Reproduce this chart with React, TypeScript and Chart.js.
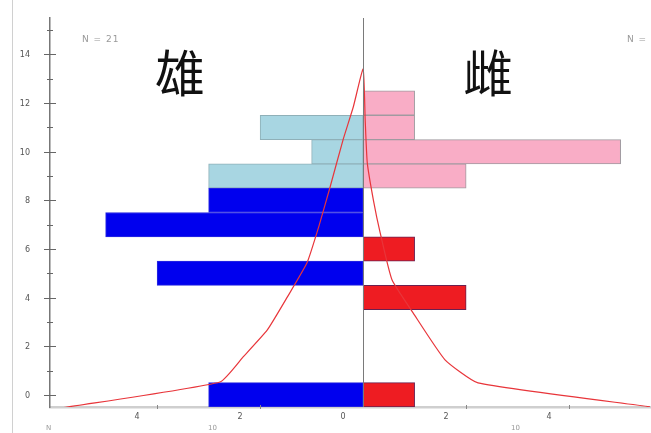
import React, { useEffect, useRef } from "react";
import { Chart, registerables } from "chart.js";

Chart.register(...registerables);

// Rows (y) and counts (x) for each group
const maleRows = [0, 5, 7, 8];
const maleCounts = [3, 4, 5, 3];
const femaleRows = [0, 4, 6];
const femaleCounts = [1, 2, 1];
const maleLightRows = [9, 10, 11];
const maleLightCounts = [3, 1, 2];
const femaleLightRows = [9, 10, 11, 12];
const femaleLightCounts = [2, 5, 1, 1];

// Density-like outline (x = signed count, y = row)
const curveX = [-5.83, -2.78, -2.33, -1.86, -1.47, -1.09, -0.85, -0.64, -0.39, -0.19, 0, 0.04, 0.08, 0.2, 0.33, 0.56, 0.97, 1.59, 2.23, 5.57];
const curveY = [-0.53, 0.53, 1.56, 2.67, 4.03, 5.43, 7.0, 8.56, 10.49, 11.85, 13.4, 11.3, 9.55, 8.0, 6.67, 4.73, 3.37, 1.44, 0.49, -0.49];

const xTickValues = [-4, -2, 0, 2, 4];
const yTickValues = [0, 1, 2, 3, 4, 5, 6, 7, 8, 9, 10, 11, 12, 13, 14, 15];
const yMin = -0.5;
const yMax = 15.5;
const xMin = -6.08;
const xMax = 5.57;

const decorPlugin = {
  id: "decor",
  afterDatasetsDraw(chart: any) {
    const { ctx, chartArea, scales } = chart;
    const x = scales.x;
    ctx.save();
    const cx = Math.round(x.getPixelForValue(0)) + 0.5;
    ctx.strokeStyle = "#7a7a7a";
    ctx.lineWidth = 1;
    ctx.beginPath();
    ctx.moveTo(cx, chartArea.top);
    ctx.lineTo(cx, chartArea.bottom);
    ctx.stroke();
    ctx.restore();
  },
  afterDraw(chart: any) {
    const { ctx, chartArea, scales } = chart;
    const x = scales.x;
    const y = scales.y;
    ctx.save();
    ctx.strokeStyle = "#666";
    ctx.lineWidth = 1;
    const ax = chartArea.left;
    ctx.font = "8px 'DejaVu Sans'";
    ctx.fillStyle = "#555";
    ctx.textAlign = "right";
    ctx.textBaseline = "middle";
    y.ticks.forEach((t: any) => {
      const v = t.value;
      const py = Math.round(y.getPixelForValue(v)) + 0.5;
      const major = v % 2 === 0;
      const half = major ? 6 : 3;
      ctx.beginPath();
      ctx.moveTo(ax - half, py);
      ctx.lineTo(ax + half, py);
      ctx.stroke();
      if (major) ctx.fillText(String(v), ax - 20, py);
    });
    ctx.strokeStyle = "#888";
    x.ticks.forEach((t: any) => {
      if (t.value === 0) return;
      const px = Math.round(x.getPixelForValue(t.value)) + 0.5;
      ctx.beginPath();
      ctx.moveTo(px, chartArea.bottom - 2);
      ctx.lineTo(px, chartArea.bottom + 2);
      ctx.stroke();
    });
    ctx.strokeStyle = "#d0d0d0";
    ctx.beginPath();
    ctx.moveTo(12.5, 0);
    ctx.lineTo(12.5, chart.height);
    ctx.stroke();
    ctx.restore();
  },
};

function pts(rows: number[], counts: number[], sign: number) {
  return rows.map((r, i) => ({ x: sign * counts[i], y: r }));
}

export default function App() {
  const ref = useRef<HTMLCanvasElement | null>(null);
  useEffect(() => {
    document.body.style.margin = "0";
    const canvas = ref.current;
    if (!canvas) return;
    const barCommon = {
      type: "bar" as const,
      indexAxis: "y" as const,
      grouped: false,
      barPercentage: 1,
      categoryPercentage: 1,
      borderSkipped: false,
      borderWidth: 1,
    };
    const chart = new Chart(canvas, {
      type: "bar",
      data: {
        datasets: [
          {
            ...barCommon,
            label: "male",
            data: pts(maleRows, maleCounts, -1),
            backgroundColor: "#0000ee",
            borderColor: "#2a2ae0",
            order: 3,
          },
          {
            ...barCommon,
            label: "female",
            data: pts(femaleRows, femaleCounts, 1),
            backgroundColor: "#ee1c22",
            borderColor: "#6a2050",
            order: 3,
          },
          {
            ...barCommon,
            label: "male2",
            data: pts(maleLightRows, maleLightCounts, -1),
            backgroundColor: "#a8d6e2",
            borderColor: "#8fb0b8",
            order: 3,
          },
          {
            ...barCommon,
            label: "female2",
            data: pts(femaleLightRows, femaleLightCounts, 1),
            backgroundColor: "#f9adc6",
            borderColor: "#a09aa0",
            order: 3,
          },
          {
            type: "line",
            indexAxis: "x",
            label: "curve",
            data: curveX.map((v, i) => ({ x: v, y: curveY[i] })),
            borderColor: "#e8353a",
            borderWidth: 1.2,
            pointRadius: 0,
            tension: 0.15,
            fill: false,
            order: 1,
          } as any,
        ],
      },
      options: {
        animation: false,
        responsive: false,
        indexAxis: "y",
        layout: { padding: { top: 18, right: 1, left: 0, bottom: 0 } },
        plugins: { legend: { display: false }, tooltip: { enabled: false } },
        scales: {
          x: {
            type: "linear",
            min: xMin,
            max: xMax,
            bounds: "data",
            offset: false,
            afterBuildTicks: (s: any) => {
              s.ticks = xTickValues.map((v) => ({ value: v }));
            },
            afterFit: (s: any) => {
              s.height = 26;
            },
            grid: { display: false, drawTicks: false },
            border: { display: true, color: "#cfcfcf", width: 2.5 },
            ticks: {
              padding: 5,
              labelOffset: -20,
              color: "#555",
              font: { size: 8, family: "DejaVu Sans" },
              callback: (v: any) => String(Math.abs(Number(v))),
            },
          },
          y: {
            type: "linear",
            min: yMin,
            max: yMax,
            bounds: "data",
            offset: false,
            afterBuildTicks: (s: any) => {
              s.ticks = yTickValues.map((v) => ({ value: v }));
            },
            afterFit: (s: any) => {
              s.width = 50;
            },
            grid: { display: false, drawTicks: false, offset: false },
            border: { display: true, color: "#777", width: 1.5 },
            ticks: {
              stepSize: 1,
              display: false,
            },
          },
        },
      },
      plugins: [decorPlugin],
    } as any);
    return () => chart.destroy();
  }, []);

  const small: React.CSSProperties = {
    position: "absolute",
    fontFamily: "DejaVu Sans",
    fontSize: 7,
    color: "#999",
    whiteSpace: "nowrap",
  };
  const note: React.CSSProperties = {
    position: "absolute",
    fontFamily: "DejaVu Sans",
    fontSize: 9,
    letterSpacing: 1,
    color: "#999",
    whiteSpace: "nowrap",
  };
  const big: React.CSSProperties = {
    position: "absolute",
    fontFamily: "'Noto Sans CJK SC'",
    fontSize: 50,
    lineHeight: "50px",
    color: "#111",
  };

  return (
    <div style={{ position: "relative", width: 651, height: 433, overflow: "hidden", background: "#fff" }}>
      <canvas ref={ref} width={651} height={433} style={{ display: "block" }} />
      <div style={{ ...big, left: 155, top: 45 }}>雄</div>
      <div style={{ ...big, left: 463, top: 45 }}>雌</div>
      <div style={{ ...note, left: 82, top: 34 }}>N = 21</div>
      <div style={{ ...note, left: 627, top: 34 }}>N = 21</div>
      <div style={{ ...small, left: 46, top: 424 }}>N</div>
      <div style={{ ...small, left: 208, top: 424 }}>10</div>
      <div style={{ ...small, left: 511, top: 424 }}>10</div>
    </div>
  );
}
